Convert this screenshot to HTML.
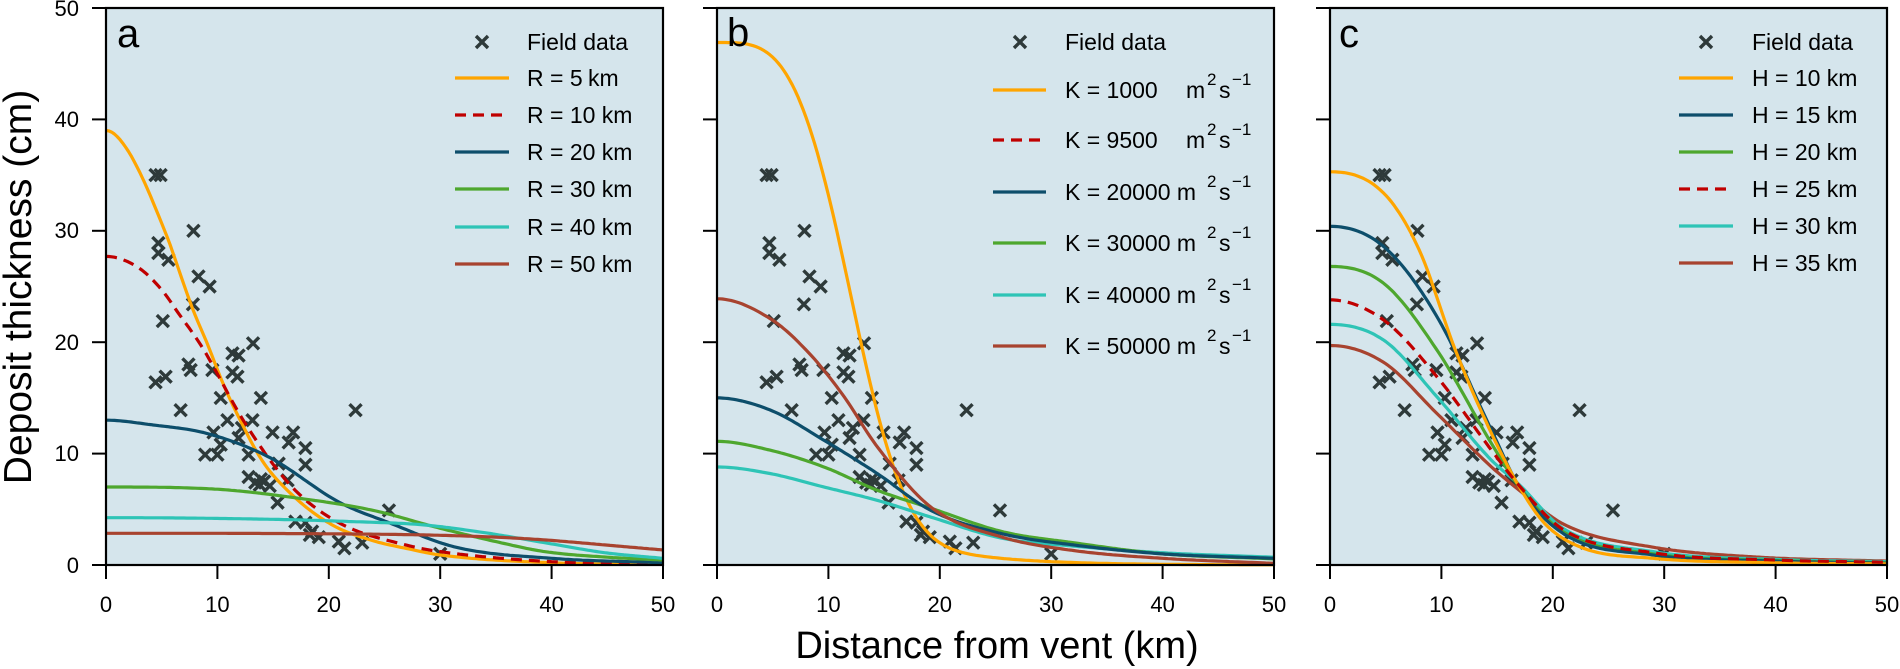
<!DOCTYPE html>
<html><head><meta charset="utf-8">
<style>
html,body{margin:0;padding:0;background:#fff;}
svg{display:block;}
text{font-family:"Liberation Sans",Arial,sans-serif;fill:#000;}
</style></head>
<body>
<svg id="s" width="1900" height="669" viewBox="0 0 1900 669" xmlns="http://www.w3.org/2000/svg">
<g id="panels"></g>
<g font-size="22" text-anchor="end">
<text x="79" y="573">0</text>
<text x="79" y="461">10</text>
<text x="79" y="350">20</text>
<text x="79" y="238">30</text>
<text x="79" y="127">40</text>
<text x="79" y="16">50</text>
</g>
<text transform="translate(31,287) rotate(-90)" font-size="39" text-anchor="middle">Deposit thickness (cm)</text>
<text x="997" y="658" font-size="38" text-anchor="middle">Distance from vent (km)</text>
<g font-size="23">
<text x="527" y="50">Field data</text>
<text x="527" y="86">R = 5 <tspan x="588">km</tspan></text>
<text x="527" y="123">R = 10 km</text>
<text x="527" y="160">R = 20 km</text>
<text x="527" y="197">R = 30 km</text>
<text x="527" y="235">R = 40 km</text>
<text x="527" y="272">R = 50 km</text>

<text x="1065" y="50">Field data</text>
<text x="1065" y="98">K = 1000</text><text x="1186" y="98">m</text><text x="1207" y="85" font-size="17">2</text><text x="1219" y="98">s</text><text x="1232" y="85" font-size="17">−1</text>
<text x="1065" y="148">K = 9500</text><text x="1186" y="148">m</text><text x="1207" y="135" font-size="17">2</text><text x="1219" y="148">s</text><text x="1232" y="135" font-size="17">−1</text>
<text x="1065" y="200">K = 20000 m</text><text x="1207" y="187" font-size="17">2</text><text x="1219" y="200">s</text><text x="1232" y="187" font-size="17">−1</text>
<text x="1065" y="251">K = 30000 m</text><text x="1207" y="238" font-size="17">2</text><text x="1219" y="251">s</text><text x="1232" y="238" font-size="17">−1</text>
<text x="1065" y="303">K = 40000 m</text><text x="1207" y="290" font-size="17">2</text><text x="1219" y="303">s</text><text x="1232" y="290" font-size="17">−1</text>
<text x="1065" y="354">K = 50000 m</text><text x="1207" y="341" font-size="17">2</text><text x="1219" y="354">s</text><text x="1232" y="341" font-size="17">−1</text>

<text x="1752" y="50">Field data</text>
<text x="1752" y="86">H = 10 km</text>
<text x="1752" y="123">H = 15 km</text>
<text x="1752" y="160">H = 20 km</text>
<text x="1752" y="197">H = 25 km</text>
<text x="1752" y="234">H = 30 km</text>
<text x="1752" y="271">H = 35 km</text>
</g>
<g font-size="40">
<text x="117" y="47">a</text>
<text x="727" y="46">b</text>
<text x="1339" y="47">c</text>
</g>
</svg>
<script>
(function(){
var NS="http://www.w3.org/2000/svg";
var g=document.getElementById('panels');
var S=11.14, Y0=565, TOP=8;
var C={o:'#ffa500',r:'#c00000',b:'#0d4e6b',g:'#4ea72e',c:'#2ec4b6',br:'#a8432f'};
function el(n,a,p){var e=document.createElementNS(NS,n);for(var k in a)e.setAttribute(k,a[k]);(p||g).appendChild(e);return e;}
var pts=[[4.45,35],[4.9,35],[7.85,30],[4.7,28.9],[4.7,28],[5.6,27.4],[8.3,25.9],[9.3,25],[7.8,23.4],[5.1,21.9],[13.2,19.9],
[4.45,16.4],[5.35,16.9],[7.4,18],[7.6,17.5],[11.35,19],[11.9,18.8],[9.55,17.5],[11.35,17.3],[11.8,16.9],[10.3,15],[13.9,15],
[6.7,13.9],[22.4,13.9],[10.9,13],[13.15,13],[9.65,11.9],[14.95,11.9],[16.8,11.9],[16.4,11],[11.9,11.4],[10.3,10.8],[17.9,10.5],
[8.9,9.9],[10,9.9],[12.8,9.9],[15.5,9.1],[17.9,9],[12.8,7.9],[13.4,7.4],[13.8,7.2],[14.2,7.5],[14.7,7.1],[13.9,7.7],[15.4,5.6],[25.4,4.9],
[17,3.9],[17.9,3.8],[18.5,3],[19.1,2.5],[18.3,2.7],[20.9,2.1],[21.4,1.5],[23,2],[30,1],[16.3,7.6],[12.2,12.3]];
function mono(P){
 var n=P.length,xs=P.map(function(p){return p[0]}),ys=P.map(function(p){return p[1]});
 var d=[],m=[];for(var i=0;i<n-1;i++)d.push((ys[i+1]-ys[i])/(xs[i+1]-xs[i]));
 m[0]=0;for(i=1;i<n-1;i++){m[i]=(d[i-1]*d[i]<=0)?0:(d[i-1]+d[i])/2;}m[n-1]=d[n-2];
 for(i=0;i<n-1;i++){if(d[i]==0){m[i]=m[i+1]=0;continue;}var a=m[i]/d[i],b=m[i+1]/d[i],h=a*a+b*b;if(h>9){var t=3/Math.sqrt(h);m[i]=t*a*d[i];m[i+1]=t*b*d[i];}}
 return function(x){var i=0;while(i<n-2&&x>xs[i+1])i++;var hh=xs[i+1]-xs[i],t=(x-xs[i])/hh,t2=t*t,t3=t2*t;
  return (2*t3-3*t2+1)*ys[i]+(t3-2*t2+t)*hh*m[i]+(-2*t3+3*t2)*ys[i+1]+(t3-t2)*hh*m[i+1];};
}
function curveF(x0,f,col,dash){var s='';for(var x=0;x<=50.001;x+=0.25){var y=f(x);s+=(x==0?'M':'L')+(x0+x*S).toFixed(1)+','+(Y0-y*S).toFixed(1);}
 var a={d:s,fill:'none',stroke:col,'stroke-width':3.2,'stroke-linejoin':'round'};if(dash)a['stroke-dasharray']='11,7';el('path',a);}
function curve(x0,P,col,dash){curveF(x0,mono(P),col,dash);}
function xm(cx,cy,r){el('path',{d:'M'+(cx-r)+','+(cy-r)+'L'+(cx+r)+','+(cy+r)+'M'+(cx-r)+','+(cy+r)+'L'+(cx+r)+','+(cy-r),stroke:'#2e3a3a','stroke-width':3.4,fill:'none'});}
var panels=[106,717,1330];
function orangeB(x){var core=46.9*Math.exp(-Math.pow(x/13.4,3.6));var sig=1/(1+Math.exp(-(x-16)/1.5));return core+sig*1.4*Math.exp(-(x-20)/6.5);}
var curves=[
 [[C.o,[[0,39],[1.9,37.3],[5.35,29.8],[7.7,23.2],[9.2,19.6],[10.5,16.3],[11.9,13.3],[14,9.4],[16.7,6.3],[20.3,3.6],[23.9,2.2],[26.9,1.5],[30,0.9],[40,0.2],[50,0.05]]],
  [C.r,[[0,27.7],[2.9,26.7],[5,24.7],[6.5,22.6],[8.6,19.6],[12.5,12.7],[16.7,7],[20.9,3.8],[26.9,1.8],[30,1.2],[40,0.3],[50,0.1]],1],
  [C.b,[[0,13],[4,12.6],[9.1,11.8],[14.6,9.7],[21,5.6],[25.4,3.8],[31.4,1.6],[40,0.6],[50,0.2]]],
  [C.g,[[0,7],[10,6.8],[16.5,6.1],[24,4.9],[29.6,3.4],[35,2.1],[39.4,1.2],[45,0.7],[50,0.45]]],
  [C.c,[[0,4.25],[15,4.1],[22,3.9],[28.5,3.6],[34,2.9],[39.4,2],[44.8,1.1],[50,0.6]]],
  [C.br,[[0,2.85],[20,2.8],[28.5,2.7],[35,2.5],[39.4,2.25],[44.8,1.8],[50,1.35]]]],
 [[C.o,orangeB],
  [C.c,[[0,8.8],[4.8,8.2],[9.6,7],[14.4,5.8],[19.2,4.3],[25.6,2.4],[32,1.7],[40,1.1],[50,0.7]]],
  [C.g,[[0,11.1],[4.8,10.3],[9.6,8.8],[14.4,6.7],[19.2,5.1],[25.6,3],[32,2],[40,1],[50,0.55]]],
  [C.b,[[0,15],[4.8,13.9],[9.6,11.2],[14.4,8.2],[19.2,4.9],[25.6,2.8],[32,1.8],[40,1],[50,0.6]]],
  [C.br,[[0,23.9],[4.8,22.1],[8,19.3],[11.2,15.4],[14.4,10.6],[19.2,5.2],[25.6,2.5],[32,1.3],[40,0.6],[50,0.15]]]],
 [[C.br,[[0,19.7],[4.8,18.2],[9.6,13.6],[14.5,8.8],[17,6.7],[20.9,3.7],[29,1.6],[38.6,0.7],[50,0.35]]],
  [C.c,[[0,21.6],[4.8,20.2],[9.6,15.1],[14.5,9.4],[17,7.2],[20.9,3.3],[29,1.2],[40,0.5],[50,0.3]]],
  [C.g,[[0,26.8],[4.8,25.3],[9.6,19.3],[14.5,10.9],[17,7],[20.9,3],[29,1],[40,0.4],[50,0.2]]],
  [C.b,[[0,30.4],[4.8,28.6],[9.6,22.3],[14.5,12.1],[17,7],[20.9,2.85],[29,0.9],[40,0.35],[50,0.15]]],
  [C.o,[[0,35.3],[4.8,33.4],[8,28.3],[11.25,19.3],[14.5,11.8],[17,7],[19.3,3.7],[22.5,1.6],[29,0.6],[40,0.2],[50,0.1]]],
  [C.r,[[0,23.8],[4.8,22],[9.6,16.9],[14.5,10.3],[17,7.1],[20.9,3.2],[29,1.1],[40,0.45],[50,0.25]],1]]
];
var legs=[[482,455,509,[42,78,115,152,189,227,264],[C.o,C.r,C.b,C.g,C.c,C.br]],
          [1020,993,1046,[42,90,140,192,243,295,346],[C.o,C.r,C.b,C.g,C.c,C.br]],
          [1706,1679,1733,[42,78,115,152,189,226,263],[C.o,C.b,C.g,C.r,C.c,C.br]]];
panels.forEach(function(x0,pi){
 var W=50*S;
 el('rect',{x:x0,y:TOP,width:W,height:Y0-TOP,fill:'#d5e5ec'});
 pts.forEach(function(p){xm(x0+p[0]*S,Y0-p[1]*S,6);});
 curves[pi].forEach(function(c){if(typeof c[1]=='function')curveF(x0,c[1],c[0]);else curve(x0,c[1],c[0],c[2]);});
 el('rect',{x:x0,y:TOP,width:W,height:Y0-TOP,fill:'none',stroke:'#000','stroke-width':2.2});
 for(var i=0;i<=5;i++){var x=x0+i*10*S;el('line',{x1:x,y1:Y0,x2:x,y2:Y0+14,stroke:'#000','stroke-width':2});
  var t=el('text',{x:x,y:612,'font-size':22,'text-anchor':'middle'});t.textContent=String(i*10);
  var y=Y0-i*10*S;el('line',{x1:x0-14,y1:y,x2:x0,y2:y,stroke:'#000','stroke-width':2});}
 var L=legs[pi];xm(L[0],L[3][0],6);
 for(var k=0;k<6;k++){var a={x1:L[1],y1:L[3][k+1],x2:L[2],y2:L[3][k+1],stroke:L[4][k],'stroke-width':3.2};
  if(L[4][k]==C.r)a['stroke-dasharray']='11,7';el('line',a);}
});
})();
</script>
</body></html>
